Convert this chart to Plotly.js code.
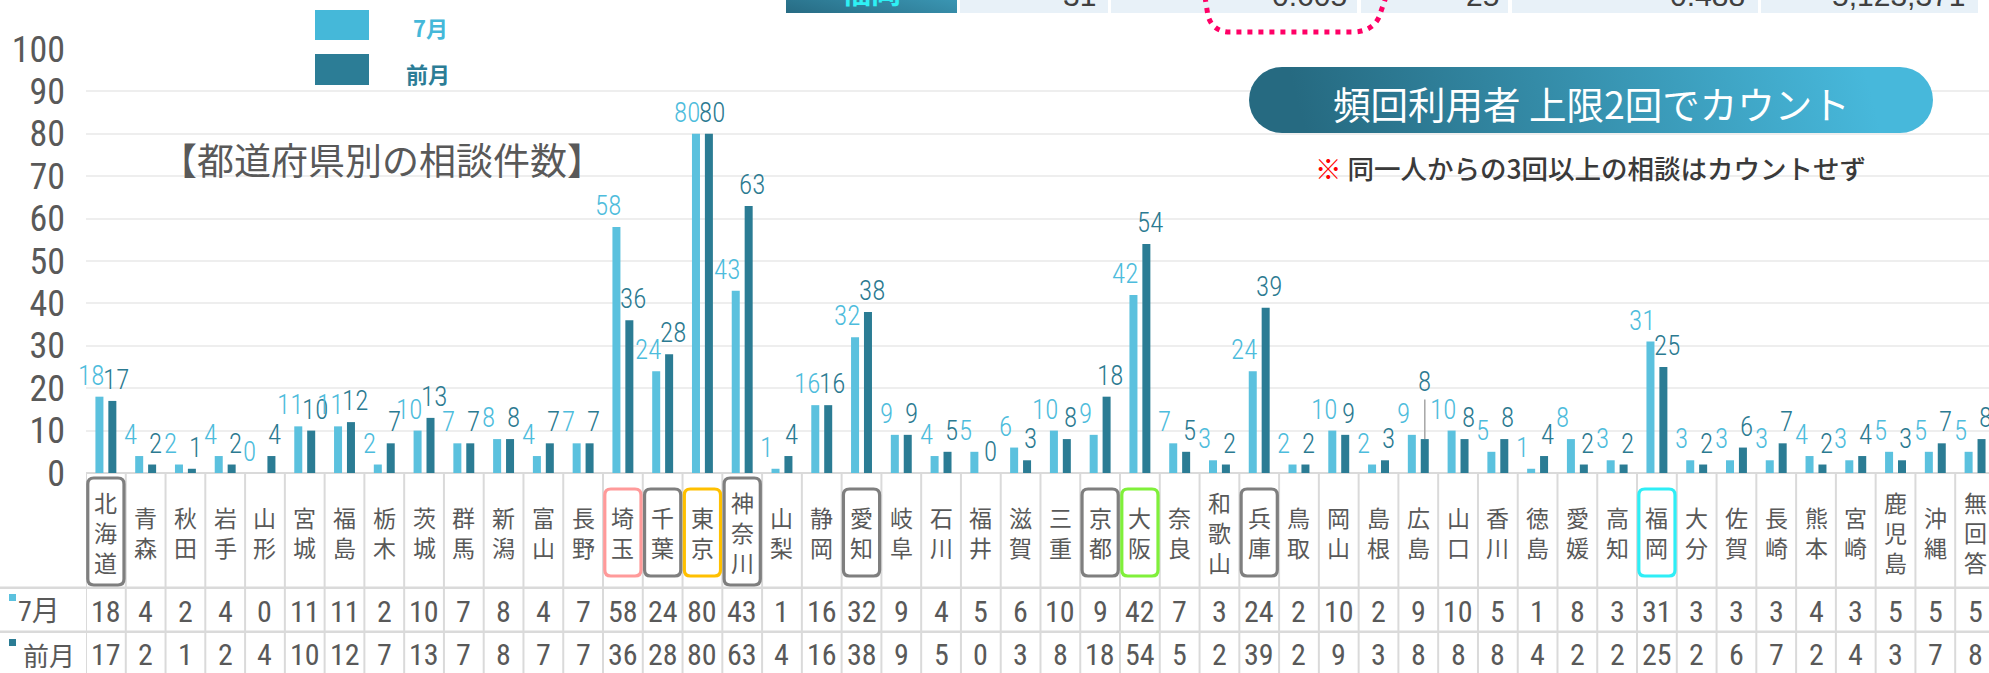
<!DOCTYPE html>
<html><head><meta charset="utf-8">
<script src="https://cdn.plot.ly/plotly-3.0.1.min.js"></script>
<style>html,body{margin:0;padding:0;background:#fff;overflow:hidden}</style>
</head><body>
<div id="chart" style="width:1989px;height:673px"></div>
<script>
// ---------------- DATA ----------------
const prefectures = ['北海道','青森','秋田','岩手','山形','宮城','福島','栃木','茨城','群馬','新潟','富山','長野','埼玉','千葉','東京','神奈川','山梨','静岡','愛知','岐阜','石川','福井','滋賀','三重','京都','大阪','奈良','和歌山','兵庫','鳥取','岡山','島根','広島','山口','香川','徳島','愛媛','高知','福岡','大分','佐賀','長崎','熊本','宮崎','鹿児島','沖縄','無回答'];
const july      = [18,4,2,4,0,11,11,2,10,7,8,4,7,58,24,80,43,1,16,32,9,4,5,6,10,9,42,7,3,24,2,10,2,9,10,5,1,8,3,31,3,3,3,4,3,5,5,5];
const prevMonth = [17,2,1,2,4,10,12,7,13,7,8,7,7,36,28,80,63,4,16,38,9,5,0,3,8,18,54,5,2,39,2,9,3,8,8,8,4,2,2,25,2,6,7,2,4,3,7,8];
const seriesNames = ['7月','前月'];
const yTicks = [0,10,20,30,40,50,60,70,80,90,100];
const chartTitle = '【都道府県別の相談件数】';
const pillText = '頻回利用者 上限2回でカウント';
const noteMark = '※';
const noteText = '同一人からの3回以上の相談はカウントせず';
const topRowLabel = '福岡';
const topRowValues = ['31','0.605','25','0.488','5,123,371'];

// ---------------- STYLE ----------------
const highlightColors = {'北海道':'#7F7F7F','埼玉':'#FF9A9A','千葉':'#7F7F7F','東京':'#FFC000','神奈川':'#7F7F7F','愛知':'#7F7F7F','京都':'#7F7F7F','大阪':'#80F03A','兵庫':'#7F7F7F','福岡':'#2EEEF6'};
const leaderLabel = '広島';   // 前月 label drawn with a leader line
const C_JUL = '#5BC1DE', C_PREV = '#2B7C94';
const C_JUL_TXT = '#4DBCDC', C_PREV_TXT = '#2B7A91';
const GRAY_TXT = '#595959';

function hasFont(name){
  const c=document.createElement('canvas').getContext('2d');
  const t='0123456789abcdefgMW';
  c.font='40px monospace'; const w1=c.measureText(t).width;
  c.font='40px "'+name+'", monospace'; const w2=c.measureText(t).width;
  c.font='40px serif'; const w3=c.measureText(t).width;
  c.font='40px "'+name+'", serif'; const w4=c.measureText(t).width;
  return w1!==w2 || w3!==w4;
}
const NARROW_CANDIDATES=['Roboto Condensed','Open Sans Condensed','DejaVu Sans Condensed','Liberation Sans Narrow'];
const found = NARROW_CANDIDATES.filter(hasFont);
const CJK = '"Noto Sans CJK JP", "Noto Sans", sans-serif';
const NARROW = found.map(n=>'"'+n+'"').concat(['"Noto Sans CJK JP"','sans-serif']).join(', ');

// ---------------- LAYOUT GEOMETRY ----------------
const W=1989, H=673, L=86, T=49, B=200;
const PW=W-L, PH=H-T-B;
const CW=39.77;                       // category width in px
const px = X => (X-L)/PW;             // pixel x -> paper
const py = Y => (T+PH-Y)/PH;          // pixel y -> paper
const f = v => (+v).toFixed(5);

const traces = [
  {type:'bar', name:seriesNames[0], x:prefectures, y:july, marker:{color:C_JUL}, hoverinfo:'skip', showlegend:false},
  {type:'bar', name:seriesNames[1], x:prefectures, y:prevMonth, marker:{color:C_PREV}, hoverinfo:'skip', showlegend:false}
];

const annotations = [];
const shapes = [];
const images = [];

// bar value labels
prefectures.forEach((p,i)=>{
  annotations.push({x:p, y:july[i], xref:'x', yref:'y', text:String(july[i]), showarrow:false,
    xanchor:'center', yanchor:'bottom', xshift:-15, yshift:3, font:{family:NARROW, size:27, color:C_JUL_TXT, weight:300}});
  if(p===leaderLabel){
    annotations.push({x:p, y:prevMonth[i], xref:'x', yref:'y', text:String(prevMonth[i]), showarrow:true,
      arrowhead:0, arrowwidth:1.5, arrowcolor:'#A6A6A6', ax:0, ay:-57, standoff:0, xshift:6.5,
      font:{family:NARROW, size:27, color:C_PREV_TXT, weight:300}});
  } else {
    annotations.push({x:p, y:prevMonth[i], xref:'x', yref:'y', text:String(prevMonth[i]), showarrow:false,
      xanchor:'center', yanchor:'bottom', xshift:10, yshift:3, font:{family:NARROW, size:27, color:C_PREV_TXT, weight:300}});
  }
});

// table: vertical lines
for(let i=0;i<=prefectures.length;i++){
  shapes.push({type:'line', xref:'x', yref:'paper', x0:i-0.5, x1:i-0.5, y0:py(473), y1:py(680), line:{color:'#DADADA', width:2}, layer:'below'});
}
// table: horizontal lines
[587.7, 631.7].forEach(Y=>{
  shapes.push({type:'line', xref:'paper', yref:'paper', x0:px(0), x1:px(W), y0:py(Y), y1:py(Y), line:{color:'#DADADA', width:2.5}, layer:'below'});
});

// category labels (vertical) and values table
prefectures.forEach((p,i)=>{
  annotations.push({x:p, xref:'x', y:py(532), yref:'paper', text:p.split('').join('<br>'), showarrow:false,
    xanchor:'center', yanchor:'middle', font:{family:CJK, size:23, color:GRAY_TXT}});
  annotations.push({x:p, xref:'x', y:py(611), yref:'paper', text:String(july[i]), showarrow:false,
    xanchor:'center', yanchor:'middle', font:{family:NARROW, size:30, color:GRAY_TXT, weight:400}});
  annotations.push({x:p, xref:'x', y:py(654), yref:'paper', text:String(prevMonth[i]), showarrow:false,
    xanchor:'center', yanchor:'middle', font:{family:NARROW, size:30, color:GRAY_TXT, weight:400}});
});

// highlight boxes
function roundRect(i, y0px, y1px, r){
  const inset=0.045;
  const x0=i-0.5+inset, x1=i+0.5-inset;
  const rx=r/CW, ry=r/PH;
  const yt=py(y0px), yb=py(y1px);
  return `M${f(x0+rx)},${f(yt)} L${f(x1-rx)},${f(yt)} Q${f(x1)},${f(yt)} ${f(x1)},${f(yt-ry)} L${f(x1)},${f(yb+ry)} Q${f(x1)},${f(yb)} ${f(x1-rx)},${f(yb)} L${f(x0+rx)},${f(yb)} Q${f(x0)},${f(yb)} ${f(x0)},${f(yb+ry)} L${f(x0)},${f(yt-ry)} Q${f(x0)},${f(yt)} ${f(x0+rx)},${f(yt)} Z`;
}
prefectures.forEach((p,i)=>{
  if(!highlightColors[p]) return;
  const three = p.length>=3;
  shapes.push({type:'path', xref:'x', yref:'paper', path: three ? roundRect(i,478,585,6) : roundRect(i,489,576,6),
    line:{color:highlightColors[p], width:3.2}, fillcolor:'rgba(0,0,0,0)'});
});

// left column of table
shapes.push({type:'rect', xref:'paper', yref:'paper', x0:px(9), x1:px(16), y0:py(594), y1:py(601), fillcolor:C_JUL, line:{width:0}});
shapes.push({type:'rect', xref:'paper', yref:'paper', x0:px(9), x1:px(16), y0:py(639), y1:py(646), fillcolor:C_PREV, line:{width:0}});
annotations.push({x:px(16), xref:'paper', y:py(611), yref:'paper', text:seriesNames[0], showarrow:false, xanchor:'left', yanchor:'middle', font:{family:NARROW, size:28, color:GRAY_TXT, weight:400}});
annotations.push({x:px(21), xref:'paper', y:py(654), yref:'paper', text:seriesNames[1], showarrow:false, xanchor:'left', yanchor:'middle', font:{family:CJK, size:26, color:GRAY_TXT}});

// legend (manual)
shapes.push({type:'rect', xref:'paper', yref:'paper', x0:px(315), x1:px(369), y0:py(10), y1:py(40), fillcolor:'#45B8D9', line:{width:0}});
shapes.push({type:'rect', xref:'paper', yref:'paper', x0:px(315), x1:px(369), y0:py(54), y1:py(85), fillcolor:'#2C7D96', line:{width:0}});
annotations.push({x:px(430), xref:'paper', y:py(27), yref:'paper', text:seriesNames[0], showarrow:false, xanchor:'center', yanchor:'middle', font:{family:CJK, size:22, color:'#45B8D9', weight:'bold'}});
annotations.push({x:px(428), xref:'paper', y:py(73), yref:'paper', text:seriesNames[1], showarrow:false, xanchor:'center', yanchor:'middle', font:{family:CJK, size:22, color:'#2C7D96', weight:'bold'}});

// chart title
annotations.push({x:px(158), xref:'paper', y:py(159), yref:'paper', text:chartTitle, showarrow:false, xanchor:'left', yanchor:'middle', font:{family:CJK, size:37, color:GRAY_TXT}});

// pill
const pillSvg = "<svg xmlns='http://www.w3.org/2000/svg' width='684' height='66' viewBox='0 0 684 66'><defs><linearGradient id='g' gradientUnits='userSpaceOnUse' x1='60' y1='80' x2='600' y2='-60'><stop offset='0' stop-color='#266A81'/><stop offset='1' stop-color='#47B8DB'/></linearGradient></defs><rect x='0' y='0' width='684' height='66' rx='33' ry='33' fill='url(#g)'/></svg>";
images.push({source:'data:image/svg+xml;charset=utf-8,'+encodeURIComponent(pillSvg), xref:'paper', yref:'paper',
  x:px(1249), y:py(67), sizex:684/PW, sizey:66/PH, sizing:'stretch', xanchor:'left', yanchor:'top', layer:'above'});
annotations.push({x:px(1591), xref:'paper', y:py(102), yref:'paper', text:pillText, showarrow:false, xanchor:'center', yanchor:'middle', font:{family:CJK, size:37.5, color:'#FFFFFF'}});
// note
annotations.push({x:px(1313), xref:'paper', y:py(167), yref:'paper', text:'<span style="color:#FF0000">'+noteMark+'</span> '+noteText, showarrow:false, xanchor:'left', yanchor:'middle', font:{family:CJK, size:26.5, color:'#3A3A3A', weight:500}});

// top strip (cut-off table row)
const cellSvg = "<svg xmlns='http://www.w3.org/2000/svg' width='171' height='40' viewBox='0 0 171 40'><defs><linearGradient id='g' x1='0' y1='1' x2='1' y2='0'><stop offset='0' stop-color='#276B83'/><stop offset='1' stop-color='#44ABCB'/></linearGradient></defs><rect x='0' y='0' width='171' height='40' fill='url(#g)'/></svg>";
images.push({source:'data:image/svg+xml;charset=utf-8,'+encodeURIComponent(cellSvg), xref:'paper', yref:'paper',
  x:px(786), y:py(-27), sizex:171/PW, sizey:40/PH, sizing:'stretch', xanchor:'left', yanchor:'top', layer:'above'});
[[960,1108],[1111,1357],[1361,1508],[1512,1758],[1761,1978]].forEach(c=>{
  shapes.push({type:'rect', xref:'paper', yref:'paper', x0:px(c[0]), x1:px(c[1]), y0:py(-30), y1:py(13), fillcolor:'#E8F1F8', line:{width:0}});
});
annotations.push({x:px(871), xref:'paper', y:py(14), yref:'paper', text:topRowLabel, showarrow:false, xanchor:'center', yanchor:'bottom', font:{family:CJK, size:30, color:'#2EF0F4', weight:'bold'}});
[1098,1349,1501,1747,1967].forEach((X,k)=>{
  annotations.push({x:px(X), xref:'paper', y:py(14), yref:'paper', text:topRowValues[k], showarrow:false, xanchor:'right', yanchor:'bottom', font:{family:'"Liberation Sans", sans-serif', size:30, color:'#404040'}});
});
shapes.push({type:'path', xref:'paper', yref:'paper',
  path:`M${f(px(1205))},${f(py(-3))} L${f(px(1208))},${f(py(16))} Q${f(px(1213))},${f(py(32))} ${f(px(1230))},${f(py(32))} L${f(px(1352))},${f(py(32))} Q${f(px(1372))},${f(py(32))} ${f(px(1379))},${f(py(17))} L${f(px(1386))},${f(py(-3))}`,
  line:{color:'#FF0066', width:5, dash:'5px,6px'}});

const layout = {
  width:W, height:H,
  margin:{l:L, r:0, t:T, b:B, pad:0},
  paper_bgcolor:'#FFFFFF', plot_bgcolor:'#FFFFFF',
  font:{family:CJK, color:GRAY_TXT},
  barmode:'group', bargap:0.35, bargroupgap:0.38,
  showlegend:false,
  xaxis:{type:'category', categoryorder:'array', categoryarray:prefectures, range:[-0.5, -0.5+PW/CW],
    showticklabels:false, showgrid:false, zeroline:false, showline:false, ticks:'', fixedrange:true},
  yaxis:{range:[0,100], tickvals:yTicks, ticktext:yTicks.map(String), showgrid:true, gridcolor:'#EEEEEE', gridwidth:2,
    zeroline:true, zerolinecolor:'#DADADA', zerolinewidth:2.5, showline:false, ticks:'', ticklabelstandoff:20,
    tickfont:{family:NARROW, size:36, color:GRAY_TXT, weight:400}, fixedrange:true},
  annotations, shapes, images
};
Plotly.newPlot('chart', traces, layout, {displayModeBar:false, staticPlot:true});
</script>
</body></html>
